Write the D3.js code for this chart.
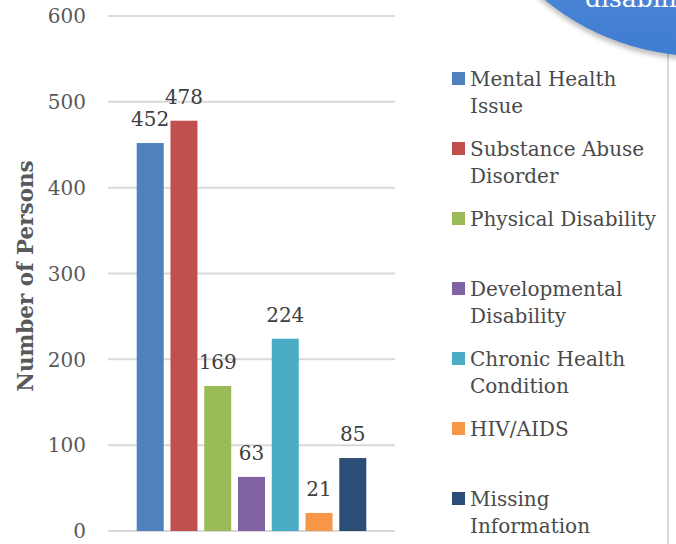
<!DOCTYPE html>
<html lang="en">
<head>
<meta charset="utf-8">
<script src="https://d3js.org/d3.v7.min.js"></script>
<style>
  body { margin: 0; background: #fff; }
  svg { display: block; font-family: "DejaVu Serif", serif; }
</style>
</head>
<body>
<svg></svg>
<script>
// chart data
var categories = ["Mental Health Issue", "Substance Abuse Disorder", "Physical Disability",
                  "Developmental Disability", "Chronic Health Condition", "HIV/AIDS", "Missing Information"];
var values = [452, 478, 169, 63, 224, 21, 85];
var colors = ["#4f81bd", "#c0504d", "#9bbb59", "#8064a2", "#4bacc6", "#f79646", "#2c4d75"];
var legendLines = [["Mental Health", "Issue"], ["Substance Abuse", "Disorder"], ["Physical Disability"],
                   ["Developmental", "Disability"], ["Chronic Health", "Condition"], ["HIV/AIDS"],
                   ["Missing", "Information"]];
var yTicks = [0, 100, 200, 300, 400, 500, 600];

var width = 676, height = 544;
var svg = d3.select("svg").attr("width", width).attr("height", height);

var x = d3.scaleBand().domain(categories).range([108, 395]).paddingInner(0.2).paddingOuter(0.85);
var y = d3.scaleLinear().domain([0, 600]).range([531, 16]);

// gridlines
svg.append("g").selectAll("line")
  .data(yTicks).enter().append("line")
  .attr("x1", 108).attr("x2", 395)
  .attr("y1", d => y(d)).attr("y2", d => y(d))
  .style("stroke", "#d9d9d9").style("stroke-width", 2);

// tick labels
svg.append("g").selectAll("text")
  .data(yTicks).enter().append("text")
  .attr("x", 86).attr("y", d => y(d)).attr("dy", "0.36em")
  .attr("text-anchor", "end")
  .style("font-size", "20px").style("fill", "#595959")
  .text(d => d);

// axis title
svg.append("text")
  .attr("transform", "translate(33,276) rotate(-90)")
  .attr("text-anchor", "middle")
  .style("font-size", "21.5px").style("font-weight", "bold").style("fill", "#595959")
  .text("Number of Persons");

// bars
svg.append("g").selectAll("rect")
  .data(values).enter().append("rect")
  .attr("x", (d, i) => x(categories[i]))
  .attr("width", x.bandwidth())
  .attr("y", d => y(d))
  .attr("height", d => y(0) - y(d))
  .style("fill", (d, i) => colors[i]);

// data labels
svg.append("g").selectAll("text")
  .data(values).enter().append("text")
  .attr("x", (d, i) => x(categories[i]) + x.bandwidth() / 2)
  .attr("y", d => y(d) - 17)
  .attr("text-anchor", "middle")
  .style("font-size", "20px").style("fill", "#404040")
  .text(d => d);

// right border line
svg.append("line")
  .attr("x1", 668).attr("x2", 668).attr("y1", 0).attr("y2", height)
  .style("stroke", "#d9d9d9").style("stroke-width", 2);

// legend
var legend = svg.append("g").selectAll("g")
  .data(legendLines).enter().append("g")
  .attr("transform", (d, i) => "translate(0," + (86 + i * 70) + ")");
legend.append("rect")
  .attr("x", 452).attr("y", -14).attr("width", 13).attr("height", 13)
  .style("fill", (d, i) => colors[i]);
legend.append("text")
  .attr("x", 470)
  .style("font-size", "20px").style("fill", "#4a4a4a")
  .selectAll("tspan").data(d => d).enter().append("tspan")
  .attr("x", 470).attr("y", (d, i) => i * 27)
  .text(d => d);

// blue bubble in the top right corner
var defs = svg.append("defs");
var grad = defs.append("linearGradient").attr("id", "bubble")
  .attr("x1", 0).attr("y1", 0).attr("x2", 0).attr("y2", 1);
grad.append("stop").attr("offset", "0%").style("stop-color", "#8fb6ea");
grad.append("stop").attr("offset", "100%").style("stop-color", "#3f7dd1");
var blur = defs.append("filter").attr("id", "shadow").attr("x", "-20%").attr("y", "-20%")
  .attr("width", "140%").attr("height", "140%");
blur.append("feGaussianBlur").attr("stdDeviation", 2.5);

svg.append("ellipse")
  .attr("cx", 701).attr("cy", -184).attr("rx", 244).attr("ry", 242)
  .style("fill", "#000").style("opacity", 0.25)
  .attr("transform", "translate(0,2)")
  .attr("filter", "url(#shadow)");
svg.append("ellipse")
  .attr("cx", 701).attr("cy", -186).attr("rx", 244).attr("ry", 242)
  .style("fill", "url(#bubble)");
svg.append("text")
  .attr("x", 585).attr("y", 7)
  .style("font-size", "25px").style("fill", "#fff")
  .text("disabilities");
</script>
</body>
</html>
